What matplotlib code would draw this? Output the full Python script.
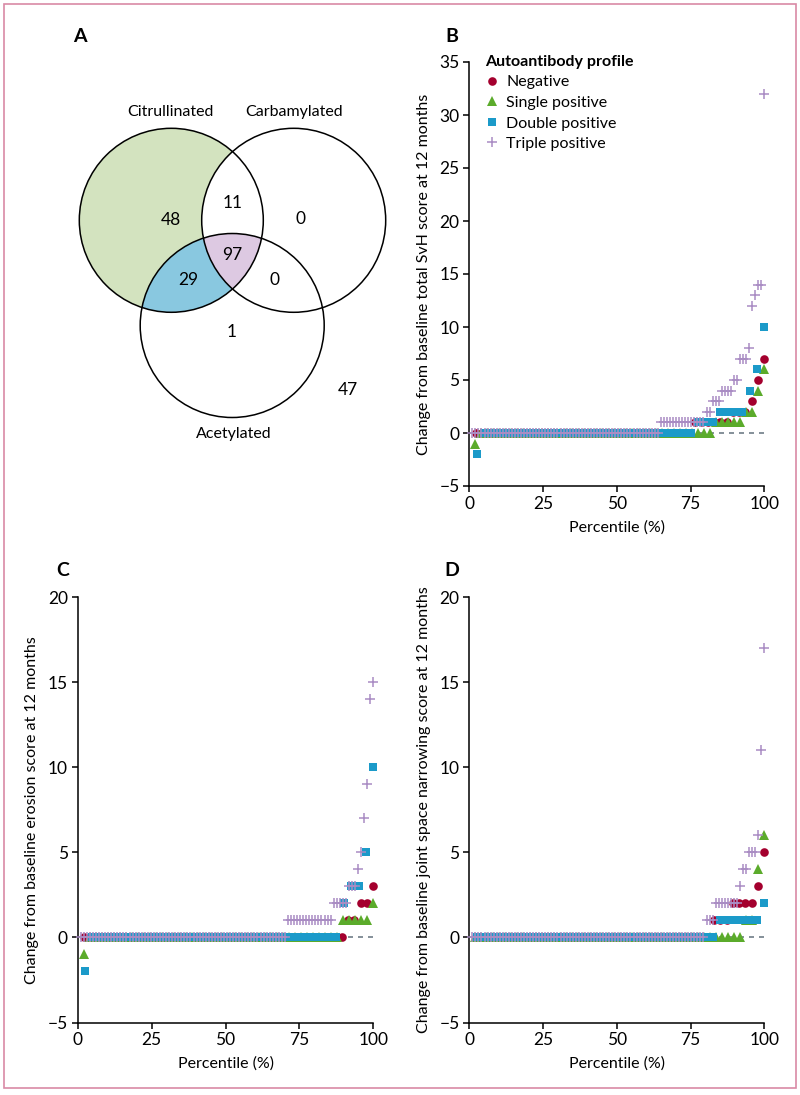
import numpy as np
import matplotlib
matplotlib.use('Agg')
import matplotlib.pyplot as plt
from matplotlib.patches import Circle, Polygon, Rectangle
from matplotlib.lines import Line2D

plt.rcParams['font.family'] = ['Lato', 'DejaVu Sans']

# ---- data -----------------------------------------------------------------
groups = ['Negative', 'Single positive', 'Double positive', 'Triple positive']
colors = ['#a4002e', '#5bab2b', '#1b9ac9', '#a98cc3']
markers = ['o', '^', 's', '+']

# Venn counts (panel A)
venn_sets = ['Citrullinated', 'Carbamylated', 'Acetylated']
venn_counts = [48, 11, 0, 97, 29, 0, 1, 47]

# sorted change scores, stored as value / number of patients with that value
b_neg_vals, b_neg_counts = [0, 1, 2, 3, 5, 7], [35, 6, 3, 1, 1, 1]
b_sgl_vals, b_sgl_counts = [-1, 0, 1, 2, 4, 6], [1, 39, 5, 2, 1, 1]
b_dbl_vals, b_dbl_counts = [-2, 0, 1, 2, 4, 6, 10], [1, 29, 3, 4, 1, 1, 1]
b_tpl_vals = [0, 1, 2, 3, 4, 5, 7, 8, 12, 13, 14, 32]
b_tpl_counts = [62, 15, 2, 3, 4, 2, 3, 1, 1, 1, 2, 1]

c_neg_vals, c_neg_counts = [0, 1, 2, 3], [42, 2, 2, 1]
c_sgl_vals, c_sgl_counts = [-1, 0, 1, 2], [1, 42, 5, 1]
c_dbl_vals, c_dbl_counts = [-2, 0, 2, 3, 5, 10], [1, 34, 1, 2, 1, 1]
c_tpl_vals = [0, 1, 2, 3, 4, 5, 7, 9, 14, 15]
c_tpl_counts = [68, 15, 5, 3, 1, 1, 1, 1, 1, 1]

d_neg_vals, d_neg_counts = [0, 1, 2, 3, 5], [38, 3, 4, 1, 1]
d_sgl_vals, d_sgl_counts = [0, 1, 4, 6], [45, 2, 1, 1]
d_dbl_vals, d_dbl_counts = [0, 1, 2], [33, 6, 1]
d_tpl_vals = [0, 1, 2, 3, 4, 5, 6, 11, 17]
d_tpl_counts = [77, 3, 8, 1, 2, 3, 1, 1, 1]

panel_b = [(b_neg_vals, b_neg_counts), (b_sgl_vals, b_sgl_counts),
           (b_dbl_vals, b_dbl_counts), (b_tpl_vals, b_tpl_counts)]
panel_c = [(c_neg_vals, c_neg_counts), (c_sgl_vals, c_sgl_counts),
           (c_dbl_vals, c_dbl_counts), (c_tpl_vals, c_tpl_counts)]
panel_d = [(d_neg_vals, d_neg_counts), (d_sgl_vals, d_sgl_counts),
           (d_dbl_vals, d_dbl_counts), (d_tpl_vals, d_tpl_counts)]

#=============================================================================
W, H = 800, 1095
fig = plt.figure(figsize=(W/100, H/100), dpi=100)

# pink frame
fig.patches.append(Rectangle((4/W, 1 - 1088/H), 792/W, 1084/H,
                             transform=fig.transFigure, fill=False,
                             edgecolor='#d98aa6', lw=1.2))

# ---- panel A : Venn ---------------------------------------------------------
ax_a = fig.add_axes([0, 0, 1, 1], zorder=0)
ax_a.set_xlim(0, W)
ax_a.set_ylim(H, 0)
ax_a.axis('off')

r = 92
centres = [(171.3, 220.3), (293.7, 220.3), (232.2, 325.5)]
cit = Circle(centres[0], r, transform=ax_a.transData)

ax_a.add_patch(Circle(centres[0], r, facecolor='#d3e3bf', edgecolor='none'))
p = Circle(centres[2], r, facecolor='#89c8e0', edgecolor='none')
ax_a.add_patch(p)
p.set_clip_path(cit)
p = Circle(centres[1], r, facecolor='white', edgecolor='none')
ax_a.add_patch(p)
p.set_clip_path(cit)

# triple overlap (convex): points on each circle that lie in the other two
t = np.linspace(0, 2*np.pi, 2000)
pts = []
for i, (cx, cy) in enumerate(centres):
    xs, ys = cx + r*np.cos(t), cy + r*np.sin(t)
    ok = np.ones_like(xs, dtype=bool)
    for j, (ox, oy) in enumerate(centres):
        if j != i:
            ok &= (xs - ox)**2 + (ys - oy)**2 <= r**2 + 1e-6
    pts += list(zip(xs[ok], ys[ok]))
pts = np.array(pts)
m = pts.mean(axis=0)
pts = pts[np.argsort(np.arctan2(pts[:, 1] - m[1], pts[:, 0] - m[0]))]
ax_a.add_patch(Polygon(pts, closed=True, facecolor='#ddc9e2', edgecolor='none'))

for c in centres:
    ax_a.add_patch(Circle(c, r, fill=False, edgecolor='black', lw=1.1))

ax_a.text(170.7, 112, venn_sets[0], ha='center', va='center', fontsize=11.5)
ax_a.text(294.3, 112, venn_sets[1], ha='center', va='center', fontsize=11.5)
ax_a.text(234, 434, venn_sets[2], ha='center', va='center', fontsize=11.5)

count_pos = [(170.7, 220), (232.3, 202.5), (300, 219.5), (232.7, 254.5),
             (188, 280), (275, 280), (231.3, 331.7), (347.7, 390)]
for n, (x, y) in zip(venn_counts, count_pos):
    ax_a.text(x, y, str(n), ha='center', va='center', fontsize=12.5)

ax_a.text(80, 36, 'A', ha='center', va='center', fontsize=14, fontweight='bold')
ax_a.text(452, 36, 'B', ha='center', va='center', fontsize=14, fontweight='bold')
ax_a.text(63, 570, 'C', ha='center', va='center', fontsize=14, fontweight='bold')
ax_a.text(452, 570, 'D', ha='center', va='center', fontsize=14, fontweight='bold')

# ---- scatter panels ---------------------------------------------------------
sizes = [6.2, 7.6, 6.0, 7.6]


def draw_panel(rect, data, ylim, yticks, ylabel):
    ax = fig.add_axes(rect, zorder=2)
    ax.patch.set_alpha(0)
    ax.axhline(0, color='#6f7d88', lw=1.2, ls=(0, (3, 3)), zorder=1)
    for k, (vals, counts) in enumerate(data):
        y = np.repeat(vals, counts)
        x = np.arange(1, len(y) + 1) / len(y) * 100
        if markers[k] == '+':
            ax.plot(x, y, ls='none', marker='+', ms=sizes[k], mew=1.1,
                    color=colors[k], clip_on=False, zorder=3 + k)
        else:
            ax.plot(x, y, ls='none', marker=markers[k], ms=sizes[k],
                    mew=0, color=colors[k], clip_on=False, zorder=3 + k)
    ax.set_xlim(0, 100)
    ax.set_ylim(*ylim)
    ax.set_xticks([0, 25, 50, 75, 100])
    ax.set_yticks(yticks)
    ax.set_yticklabels([str(v).replace('-', '\u2212') for v in yticks])
    for s in ['top', 'right']:
        ax.spines[s].set_visible(False)
    for s in ['left', 'bottom']:
        ax.spines[s].set_linewidth(1.1)
    ax.tick_params(direction='out', length=4, width=1.1, labelsize=12.5,
                   pad=3)
    ax.set_xlabel('Percentile (%)', fontsize=11.5, labelpad=6)
    ax.set_ylabel(ylabel, fontsize=11.5, labelpad=6)
    return ax


ax_b = draw_panel([469.3/W, 1 - 486/H, 295/W, 424/H], panel_b, (-5, 35),
                  list(range(-5, 36, 5)),
                  'Change from baseline total SvH score at 12 months')
ax_c = draw_panel([77.7/W, 1 - 1022.5/H, 295.6/W, 425.5/H], panel_c, (-5, 20),
                  list(range(-5, 21, 5)),
                  'Change from baseline erosion score at 12 months')
ax_d = draw_panel([469.3/W, 1 - 1022.5/H, 295/W, 425.5/H], panel_d, (-5, 20),
                  list(range(-5, 21, 5)),
                  'Change from baseline joint space narrowing score at 12 months')

handles = [Line2D([], [], ls='none', marker=markers[k], ms=sizes[k],
                  mew=1.1 if markers[k] == '+' else 0, color=colors[k])
           for k in range(4)]
leg = ax_b.legend(handles, groups, title='Autoantibody profile',
                  loc='upper left', bbox_to_anchor=(0.055, 1.017),
                  frameon=False, fontsize=11.5, handlelength=0.8,
                  handletextpad=0.5, labelspacing=0.4, borderpad=0,
                  borderaxespad=0, alignment='left')
leg.get_title().set_fontweight('bold')
leg.get_title().set_fontsize(11.5)

fig.savefig('out.png', dpi=100)
